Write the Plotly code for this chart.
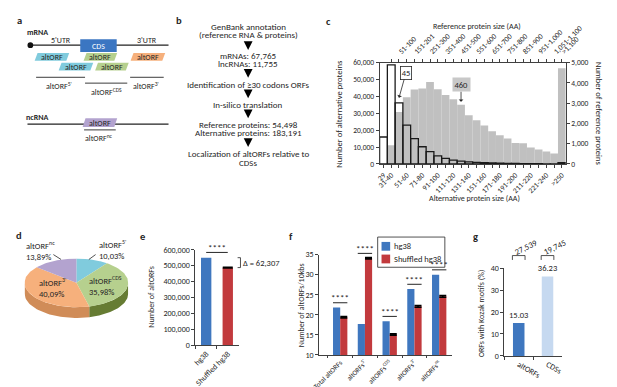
import numpy as np
import plotly.graph_objects as go

W, H = 617, 387
FONT = "Carlito, Calibri, Lato, 'Open Sans', sans-serif"
INK = "#262626"

# ---------------- data ----------------
# panel c : size distributions
alt_bins = ["29", "31-40", "41-50", "51-60", "61-70", "71-80", "81-90", "91-100", "101-110",
            "111-120", "121-130", "131-140", "141-150", "151-160", "161-170", "171-180",
            "181-190", "191-200", "201-210", "211-220", "221-230", "231-240", "241-250", ">250"]
alt_counts = [16000, 58700, 36200, 23000, 15000, 10200, 7300, 4800, 3300, 2300, 1700, 1300,
              1000, 800, 600, 450, 350, 280, 220, 180, 150, 120, 100, 800]
alt_tick_text = ["29", "31-40", "", "51-60", "", "71-80", "", "91-100", "", "111-120", "",
                 "131-140", "", "151-160", "", "171-180", "", "191-200", "", "211-220", "",
                 "221-240", "", ">250"]
ref_bins = ["1-50", "51-100", "101-150", "151-200", "201-250", "251-300", "301-350", "351-400",
            "401-450", "451-500", "501-550", "551-600", "601-650", "651-700", "701-750",
            "751-800", "801-850", "851-900", "901-950", "951-1,000", "1,001-1,050",
            "1,051-1,100", ">1,100"]
ref_counts = [930, 2560, 3290, 3680, 3730, 4050, 3690, 3410, 3200, 2920, 2400, 2160, 1900,
              1620, 1420, 1260, 1030, 1020, 820, 720, 620, 520, 4730]
ref_tick_text = ["", "51-100", "", "151-201", "", "251-300", "", "351-400", "", "451-500", "",
                 "551-600", "", "651-700", "", "751-800", "", "851-900", "", "951-1,000", "",
                 "1,051-1,100", ">1,100"]
alt_median_label, ref_median_label = "45", "460"

# panel d : pie
pie_labels = ["altORF<sup>5'</sup>", "altORF<sup>CDS</sup>", "altORF<sup>3'</sup>", "altORF<sup>nc</sup>"]
pie_pct = [10.03, 35.98, 40.09, 13.89]

# panel e
e_cats = ["hg38", "Shuffled hg38"]
e_vals = [550000, 487693]
e_err = [0, 2500]

# panel f
f_cats = ["Total altORFs", "altORFs<sup>5'</sup>", "altORFs<sup>CDS</sup>",
          "altORFs<sup>3'</sup>", "altORFs<sup>nc</sup>"]
f_series = ["hg38", "Shuffled hg38"]
f_hg38 = [21.8, 17.7, 18.4, 26.4, 30.0]
f_shuf = [19.4, 34.1, 15.1, 22.1, 24.6]
f_shuf_err = [0.2, 0.2, 0.2, 0.2, 0.2]

# panel g
g_cats = ["altORFs", "CDSs"]
g_vals = [15.03, 36.23]
g_counts = [27539, 19745]

# ---------------- colours ----------------
BLUE, RED = "#3f77bf", "#c23a3d"
C_CDS, C_5, C_CDSORF, C_3, C_NC = "#3b76c2", "#80cbdd", "#b6d08e", "#f6b07c", "#b3a3cf"

# ---------------- helpers ----------------
def PX(x): return x / W
def PY(y): return 1 - y / H
def dom_x(a, b): return [a / W, b / W]
def dom_y(bottom, top): return [1 - bottom / H, 1 - top / H]

shapes, ann = [], []
FS = 8.5

def T(x, y, text, size=FS, color=INK, xanchor="center", yanchor="middle", angle=0,
      align="center", bold=False):
    if bold:
        text = "<b>%s</b>" % text
    ann.append(dict(x=PX(x), y=PY(y), xref="paper", yref="paper", text=text, showarrow=False,
                    font=dict(size=size, color=color, family=FONT), xanchor=xanchor,
                    yanchor=yanchor, textangle=angle, align=align, borderpad=0))

def L(x0, y0, x1, y1, color=INK, width=1):
    shapes.append(dict(type="line", xref="paper", yref="paper", x0=PX(x0), y0=PY(y0),
                       x1=PX(x1), y1=PY(y1), line=dict(color=color, width=width)))

def R(x0, y0, x1, y1, fill, lw=0, lc=INK):
    shapes.append(dict(type="rect", xref="paper", yref="paper", x0=PX(x0), y0=PY(y0), x1=PX(x1),
                       y1=PY(y1), fillcolor=fill, line=dict(width=lw, color=lc)))

def para(x0, y0, x1, y1, color, s=1.5):
    p = "M {} {} L {} {} L {} {} L {} {} Z".format(PX(x0 + s), PY(y0), PX(x1 + s), PY(y0),
                                                   PX(x1 - s), PY(y1), PX(x0 - s), PY(y1))
    shapes.append(dict(type="path", xref="paper", yref="paper", path=p, fillcolor=color,
                       line=dict(width=0)))

def DOWN(x, y0, y1):
    ann.append(dict(x=PX(x), y=PY(y1), xref="paper", yref="paper", ax=0, ay=-(y1 - y0),
                    text="", showarrow=True, arrowhead=2, arrowsize=1.1, arrowwidth=1.6,
                    arrowcolor="black"))

# panel geometry (pixels)
C_X, C_Y = (380, 574), (155, 51)
E_X, E_Y = (188, 233), (341, 243)
F_X, F_Y = (317, 455), (351, 248)
G_X, G_Y = (510, 570), (352, 262)
E_R, F_R, G_R = [0, 600000], [10, 35], [0, 40]
F_XR = [-0.85, 4.5]
G_XR = [-0.5, 1.5]

def ypx(v, Y, Rg):
    return Y[0] + (v - Rg[0]) / (Rg[1] - Rg[0]) * (Y[1] - Y[0])

def xpx(i, X, Rg):
    return X[0] + (i - Rg[0]) / (Rg[1] - Rg[0]) * (X[1] - X[0])

fig = go.Figure()

# ---------------- panel c ----------------
alt_pos = np.arange(1, len(alt_bins) + 1)
ref_pos = alt_pos[len(alt_bins) - len(ref_bins):]
fig.add_trace(go.Bar(x=ref_pos, y=ref_counts, width=1, name="Reference proteins",
                     marker=dict(color="#c0c0c0", line=dict(width=0)),
                     xaxis="x", yaxis="y", showlegend=False, hovertext=ref_bins))
fig.add_trace(go.Scatter(x=[], y=[], xaxis="x2", yaxis="y", showlegend=False))
fig.add_trace(go.Bar(x=alt_pos, y=alt_counts, width=1, name="Alternative proteins",
                     marker=dict(color="rgba(0,0,0,0)", line=dict(color="#1a1a1a", width=1.3)),
                     xaxis="x", yaxis="y2", showlegend=False, hovertext=alt_bins))

ann.append(dict(x=alt_pos[2], y=alt_counts[2] + 3000, xref="x", yref="y2", text=alt_median_label,
                showarrow=True, ax=7, ay=-25, arrowhead=1, arrowwidth=0.8, arrowcolor=INK,
                bgcolor="white", bordercolor=INK, borderwidth=0.8, borderpad=1,
                font=dict(size=8.5, color=INK, family=FONT)))
ann.append(dict(x=ref_pos[9], y=ref_counts[9] + 150, xref="x", yref="y", text=ref_median_label,
                showarrow=True, ax=0, ay=-17, arrowhead=1, arrowwidth=0.8, arrowcolor=INK,
                bgcolor="#c8c8c8", borderpad=1.5,
                font=dict(size=8.5, color=INK, family=FONT)))

def axstyle(ts):
    return dict(showgrid=False, zeroline=False, showline=True, linecolor="#404040", linewidth=1,
                ticks="outside", ticklen=3, tickcolor="#404040",
                tickfont=dict(size=ts, color=INK, family=FONT))
axc = axstyle(7.5)
axs = axstyle(8)
axf = axstyle(7)

# ---------------- panel d (3-D pie from percentages) ----------------
DEPTH = 0.44
frac = np.array(pie_pct) / sum(pie_pct)
bounds = 90 - np.concatenate([[0], np.cumsum(frac)]) * 360
top_cols = [C_5, C_CDSORF, C_3, C_NC]
side_cols = ["#5a9fb0", "#667c33", "#d08c58", "#8a7ca3"]
for i in range(len(pie_pct)):
    hi, lo = bounds[i], bounds[i + 1]
    a, b = max(lo, -180), min(hi, 0)
    if a < b:
        t = np.radians(np.linspace(a, b, 40))
        xs = np.concatenate([np.cos(t), np.cos(t[::-1])])
        ys = np.concatenate([np.sin(t), np.sin(t[::-1]) - DEPTH])
        fig.add_trace(go.Scatter(x=xs, y=ys, fill="toself", fillcolor=side_cols[i], mode="lines",
                                 line=dict(width=0), xaxis="x6", yaxis="y6",
                                 showlegend=False, hoverinfo="skip"))
for i in range(len(pie_pct)):
    hi, lo = bounds[i], bounds[i + 1]
    t = np.radians(np.linspace(hi, lo, 60))
    xs = np.concatenate([[0], np.cos(t), [0]])
    ys = np.concatenate([[0], np.sin(t), [0]])
    fig.add_trace(go.Scatter(x=xs, y=ys, fill="toself", fillcolor=top_cols[i], mode="lines",
                             line=dict(width=0), xaxis="x6", yaxis="y6", name=pie_labels[i],
                             showlegend=False, hoverinfo="name"))

def pct(v):
    return ("%.2f%%" % v).replace(".", ",")

PS = 8.5
T(86, 243, pie_labels[0] + "<br>" + pct(pie_pct[0]), size=PS, xanchor="left", align="left")
T(76, 280, pie_labels[1] + "<br>" + pct(pie_pct[1]), size=PS, xanchor="left", align="left")
T(24, 282, pie_labels[2] + "<br>" + pct(pie_pct[2]), size=PS, xanchor="left", align="left")
T(10, 244, pie_labels[3] + "<br>" + pct(pie_pct[3]), size=PS, xanchor="left", align="left")
L(40, 248, 48, 253, width=0.8)
L(84, 248, 77, 253, width=0.8)

# ---------------- panel e ----------------
for i, (c, v, er, col) in enumerate(zip(e_cats, e_vals, e_err, [BLUE, RED])):
    fig.add_trace(go.Bar(x=[c], y=[v], width=0.48, marker=dict(color=col, line=dict(width=0)),
                         error_y=dict(type="data", array=[er], visible=er > 0, color="black",
                                      thickness=1.5, width=5),
                         xaxis="x3", yaxis="y3", showlegend=False))
ys = ypx(max(e_vals) * 1.06, E_Y, E_R)
L(xpx(0, E_X, [-0.5, 1.5]), ys, xpx(1, E_X, [-0.5, 1.5]), ys, width=1)
T((xpx(0, E_X, [-0.5, 1.5]) + xpx(1, E_X, [-0.5, 1.5])) / 2, ys + 1.5, "****", size=9, yanchor="bottom")
y_a, y_b = ypx(e_vals[0], E_Y, E_R), ypx(e_vals[1], E_Y, E_R)
shapes.append(dict(type="path", xref="paper", yref="paper",
                   path="M {} {} L {} {} L {} {} L {} {}".format(PX(232), PY(y_a), PX(235), PY(y_a),
                                                                 PX(235), PY(y_b), PX(232), PY(y_b)),
                   line=dict(color=INK, width=0.8)))
T(237, (y_a + y_b) / 2, "Δ = {:,}".format(e_vals[0] - e_vals[1]), size=8.5, xanchor="left")

# ---------------- panel f ----------------
BW = 0.29
fig.add_trace(go.Bar(x=f_cats, y=f_hg38, width=BW, offset=-BW, name=f_series[0],
                     marker=dict(color=BLUE, line=dict(width=0)), xaxis="x4", yaxis="y4",
                     showlegend=False))
fig.add_trace(go.Bar(x=f_cats, y=f_shuf, width=BW, offset=0, name=f_series[1],
                     marker=dict(color=RED, line=dict(width=0)),
                     error_y=dict(type="data", array=f_shuf_err, color="black", thickness=1.5, width=3.5),
                     xaxis="x4", yaxis="y4", showlegend=False))
for i in range(len(f_cats)):
    top = max(f_hg38[i], f_shuf[i]) + 1.2
    yy = ypx(top, F_Y, F_R)
    xa, xb = xpx(i - BW, F_X, F_XR), xpx(i + BW, F_X, F_XR)
    L(xa, yy, xb, yy, width=1)
    T((xa + xb) / 2, yy + 1.5, "****", size=9, yanchor="bottom")

# legend of panel f (box drawn as shapes)
R(378, 230, 448, 261, "white", lw=0.8)
R(382, 235, 391, 244, BLUE)
R(382, 248, 391, 257, RED)
T(394, 239.5, f_series[0], size=8.5, xanchor="left")
T(394, 252.5, f_series[1], size=8.5, xanchor="left")

# ---------------- panel g ----------------
fig.add_trace(go.Bar(x=g_cats, y=g_vals, width=0.4, marker=dict(color=[BLUE, "#c6d9f0"], line=dict(width=0)),
                     text=["%.2f" % v for v in g_vals], textposition="outside", cliponaxis=False,
                     constraintext="none", textfont=dict(size=8.5, color=INK, family=FONT),
                     xaxis="x5", yaxis="y5", showlegend=False))
for i, n in enumerate(g_counts):
    xa, xb = xpx(i - 0.22, G_X, G_XR), xpx(i + 0.22, G_X, G_XR)
    shapes.append(dict(type="path", xref="paper", yref="paper",
                       path="M {} {} L {} {} L {} {} L {} {}".format(PX(xa), PY(253.5), PX(xa), PY(249),
                                                                     PX(xb), PY(249), PX(xb), PY(253.5)),
                       line=dict(color=INK, width=0.8)))
    T((xa + xb) / 2 + 8, 240.5, "{:,}".format(n), size=8.5, angle=-26)

# ---------------- panel a : diagram ----------------
DS = 8
T(5, 8, "a", size=10.5, bold=True)
T(11, 19, "mRNA", size=DS, bold=True, xanchor="left")
L(16, 33, 160, 33, color="#222", width=1.3)
shapes.append(dict(type="circle", xref="paper", yref="paper", x0=PX(13), y0=PY(30), x1=PX(19),
                   y1=PY(36), fillcolor="#111", line=dict(width=0)))
T(48, 28, "5'UTR", size=DS)
T(138, 28, "3'UTR", size=DS)
R(68, 27, 106, 40, C_CDS)
T(87, 33.5, "CDS", size=DS, color="white")
para(22, 41, 55, 49, C_5); T(38.5, 45, "altORF", size=DS)
para(47, 51, 80, 59, C_5); T(63.5, 55, "altORF", size=DS)
para(73, 41, 105, 49, C_CDSORF); T(89, 45, "altORF", size=DS)
para(85, 51, 117, 59, C_CDSORF); T(101, 55, "altORF", size=DS)
para(122, 41, 155, 49, C_3); T(138.5, 45, "altORF", size=DS)
L(22, 66, 73, 66, width=0.9)
L(73, 72, 117, 72, width=0.9)
L(120, 66, 155, 66, width=0.9)
T(46, 75, "altORF<sup>5'</sup>", size=DS)
T(95, 81, "altORF<sup>CDS</sup>", size=DS)
T(137, 75, "altORF<sup>3'</sup>", size=DS)
T(10, 107, "ncRNA", size=DS, bold=True, xanchor="left")
L(13, 114, 160, 114, color="#222", width=1.3)
para(72, 108, 105, 117, C_NC); T(88.5, 112.5, "altORF", size=DS)
L(72, 120, 105, 120, width=0.9)
T(88, 128, "altORF<sup>nc</sup>", size=DS)

# ---------------- panel b : flow chart ----------------
T(171, 8, "b", size=10.5, bold=True)
BX = 243
BS = 9
for txt, y in [("GenBank annotation", 13.5), ("(reference RNA & proteins)", 22.5),
               ("mRNAs: 67,765", 43.5), ("lncRNAs: 11,755", 52),
               ("Identification of ≥30 codons ORFs", 73.5), ("In-silico translation", 94),
               ("Reference proteins: 54,498", 114), ("Alternative proteins: 183,191", 122.5),
               ("Localization of altORFs relative to", 144.5), ("CDSs", 153.5)]:
    T(BX, y, txt, size=BS)
for y0, y1 in [(29.5, 38), (58, 66.5), (79.5, 87.5), (100, 108), (128.5, 137.5)]:
    DOWN(BX, y0, y1)

# ---------------- panel labels & axis titles ----------------
T(327, 9, "c", size=10.5, bold=True)
T(4, 228, "d", size=10.5, bold=True)
T(133, 229, "e", size=10.5, bold=True)
T(288, 229, "f", size=10.5, bold=True)
T(480, 229, "g", size=10.5, bold=True)
T(481, 13, "Reference protein size (AA)", size=8)
T(479, 190, "Alternative protein size (AA)", size=8)
T(338, 103, "Number of alternative proteins", size=8.5, angle=-90)
T(608, 103, "Number of reference proteins", size=8.5, angle=90)
T(142, 291, "Number of altORFs", size=8, angle=-90)
T(298, 300, "Number of altORFs/10kbs", size=8, angle=-90)
T(486, 308, "ORFs with Kozak motifs (%)", size=8, angle=-90)

# ---------------- layout ----------------
fig.update_layout(
    width=W, height=H, margin=dict(l=0, r=0, t=0, b=0),
    paper_bgcolor="white", plot_bgcolor="rgba(0,0,0,0)",
    barmode="overlay", font=dict(family=FONT, color=INK, size=FS),
    shapes=shapes, annotations=ann, showlegend=False,
    xaxis=dict(axc, domain=dom_x(*C_X), range=[0.5, 24.5], anchor="y", tickvals=alt_pos,
               ticktext=alt_tick_text, tickangle=-45),
    xaxis2=dict(axc, domain=dom_x(*C_X), range=[0.5, 24.5], anchor="y", overlaying="x", side="top",
                tickvals=ref_pos, ticktext=ref_tick_text, tickangle=-45),
    yaxis=dict(axc, domain=dom_y(*C_Y), range=[0, 5000], dtick=1000, tickformat=",", side="right",
               anchor="x"),
    yaxis2=dict(axc, domain=dom_y(*C_Y), range=[0, 60000], dtick=10000, tickformat=",", side="left",
                overlaying="y", anchor="x"),
    xaxis3=dict(axs, domain=dom_x(*E_X), range=[-0.5, 1.5], anchor="y3", type="category",
                tickangle=-45, tickson="boundaries"),
    yaxis3=dict(axs, domain=dom_y(*E_Y), range=E_R, dtick=100000, tickformat=",", anchor="x3"),
    xaxis4=dict(axf, domain=dom_x(*F_X), range=F_XR, anchor="y4", type="category",
                tickangle=-45, tickson="boundaries", ticklen=2),
    yaxis4=dict(axs, domain=dom_y(*F_Y), range=F_R, dtick=5, anchor="x4"),
    xaxis5=dict(axs, domain=dom_x(*G_X), range=G_XR, anchor="y5", type="category",
                tickson="boundaries"),
    yaxis5=dict(axs, domain=dom_y(*G_Y), range=G_R, dtick=10, anchor="x5"),
    xaxis6=dict(domain=dom_x(10, 118), range=[-1, 1], visible=False, anchor="y6"),
    yaxis6=dict(domain=dom_y(313, 252), range=[-1 - DEPTH, 1], visible=False, anchor="x6"),
)

fig.write_html("out.html")
